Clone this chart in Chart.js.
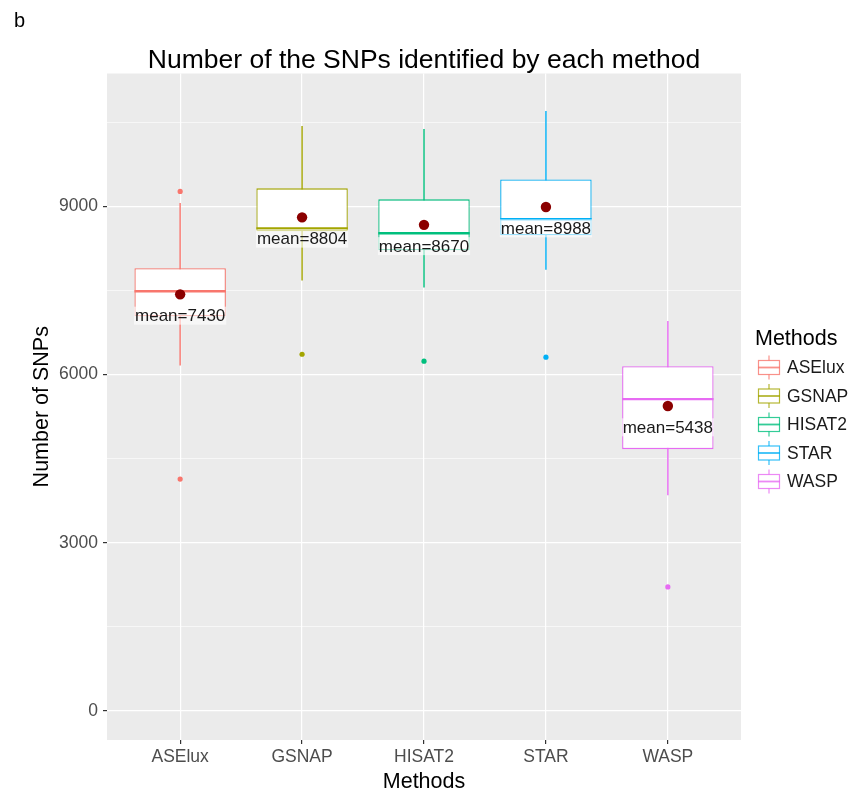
<!DOCTYPE html>
<html>
<head>
<meta charset="utf-8">
<script src="https://cdn.jsdelivr.net/npm/chart.js@4.4.1/dist/chart.umd.min.js"></script>
<style>
  html, body { margin: 0; padding: 0; background: #ffffff; }
  canvas { display: block; }
</style>
</head>
<body>
<canvas id="snpChart" width="854" height="796"></canvas>
<script>
// Box-plot summary of SNP counts per alignment method
const methods      = ['ASElux', 'GSNAP', 'HISAT2', 'STAR', 'WASP'];
const methodColors = ['#F8766D', '#A3A500', '#00BF7D', '#00B0F6', '#E76BF3'];
const whiskerLow   = [6166, 7681, 7557, 7877, 3850];
const quartile1    = [7040, 8555, 8216, 8483, 4669];
const medians      = [7485, 8608, 8519, 8769, 5561];
const quartile3    = [7895, 9321, 9125, 9481, 6149];
const whiskerHigh  = [9054, 10426, 10372, 10693, 6951];
const means        = [7430, 8804, 8670, 8988, 5438];
const outliers     = [[9267, 4135], [6362], [6238], [6309], [2210]];
const yTicks       = [0, 3000, 6000, 9000];
const yMinorTicks  = [1500, 4500, 7500, 10500];

const FONT = '"Liberation Sans", Arial, Helvetica, sans-serif';
const MEAN_LABEL_DROP = 380;   // label sits this many SNPs below the mean dot

Chart.defaults.font.family = FONT;

const idx = methods.map((_, i) => i);
const outlierPoints = [];
outliers.forEach((vals, i) => vals.forEach(v => outlierPoints.push({ x: i, y: v })));

function halfBoxWidth(c) {
  const s = c.chart.scales.x;
  return Math.abs(s.getPixelForValue(1) - s.getPixelForValue(0)) * 0.75 / 2;
}

function withAlpha(hex, a) {
  const n = parseInt(hex.slice(1), 16);
  return `rgba(${(n >> 16) & 255},${(n >> 8) & 255},${n & 255},${a})`;
}

// grey panel behind the grid
const panelBackground = {
  id: 'panelBackground',
  beforeDraw(chart) {
    const { ctx, chartArea: a } = chart;
    ctx.save();
    ctx.fillStyle = '#ffffff';
    ctx.fillRect(0, 0, chart.width, chart.height);
    ctx.fillStyle = '#EBEBEB';
    ctx.fillRect(a.left, a.top, a.right - a.left, a.bottom - a.top);
    ctx.restore();
  }
};

// "mean=..." captions under each mean dot
const meanLabels = {
  id: 'meanLabels',
  afterDatasetsDraw(chart) {
    const { ctx, scales: { x, y } } = chart;
    ctx.save();
    ctx.font = '17px ' + FONT;
    ctx.textAlign = 'center';
    ctx.textBaseline = 'middle';
    means.forEach((m, i) => {
      const px = x.getPixelForValue(i);
      const py = y.getPixelForValue(m - MEAN_LABEL_DROP);
      const text = 'mean=' + m;
      const w = ctx.measureText(text).width;
      ctx.fillStyle = 'rgba(255,255,255,0.6)';
      ctx.fillRect(px - w / 2 - 1, py - 9, w + 2, 18);
      ctx.fillStyle = '#1a1a1a';
      ctx.fillText(text, px, py + 1);
    });
    ctx.restore();
  }
};

// panel tag and the "Methods" key with box-plot glyphs
const sideDecor = {
  id: 'sideDecor',
  afterDraw(chart) {
    const { ctx } = chart;
    ctx.save();
    ctx.fillStyle = '#000000';
    ctx.textAlign = 'left';
    ctx.textBaseline = 'middle';
    ctx.font = '20px ' + FONT;
    ctx.fillText('b', 14, 21);

    ctx.font = '21.5px ' + FONT;
    ctx.fillText('Methods', 755, 339);

    methods.forEach((m, i) => {
      const cy = 367.5 + i * 28.5;
      const x0 = 758, w = 22, cx = x0 + w / 2;
      const col = withAlpha(methodColors[i], 0.8);
      ctx.strokeStyle = col;
      ctx.lineWidth = 1.2;
      ctx.beginPath();
      ctx.moveTo(cx, cy - 12); ctx.lineTo(cx, cy + 12);
      ctx.stroke();
      ctx.fillStyle = '#ffffff';
      ctx.fillRect(x0, cy - 7, w, 14);
      ctx.strokeRect(x0 + 0.5, cy - 7, w - 1, 14);
      ctx.lineWidth = 1.8;
      ctx.beginPath();
      ctx.moveTo(x0, cy); ctx.lineTo(x0 + w, cy);
      ctx.stroke();
      ctx.fillStyle = '#1a1a1a';
      ctx.font = '17.5px ' + FONT;
      ctx.fillText(m, 787, cy + 1);
    });
    ctx.restore();
  }
};

new Chart(document.getElementById('snpChart'), {
  type: 'bar',
  data: {
    datasets: [
      {
        type: 'bar',
        label: 'whiskers',
        data: idx.map(i => ({ x: i, y: [whiskerLow[i], whiskerHigh[i]] })),
        backgroundColor: methodColors.map(c => withAlpha(c, 0.85)),
        borderWidth: 0,
        barThickness: 1,
        grouped: false,
        order: 5
      },
      {
        type: 'bar',
        label: 'boxes',
        data: idx.map(i => ({ x: i, y: [quartile1[i], quartile3[i]] })),
        backgroundColor: '#ffffff',
        borderColor: methodColors,
        borderWidth: 1.3,
        borderSkipped: false,
        barPercentage: 0.75,
        categoryPercentage: 1,
        grouped: false,
        order: 4
      },
      {
        type: 'scatter',
        label: 'medians',
        data: idx.map(i => ({ x: i, y: medians[i] })),
        pointStyle: 'line',
        radius: halfBoxWidth,
        borderColor: methodColors,
        borderWidth: 2.4,
        order: 3
      },
      {
        type: 'scatter',
        label: 'outliers',
        data: outlierPoints,
        backgroundColor: c => methodColors[c.raw.x],
        borderWidth: 0,
        radius: 2.6,
        order: 2
      },
      {
        type: 'scatter',
        label: 'means',
        data: idx.map(i => ({ x: i, y: means[i] })),
        backgroundColor: '#8B0000',
        borderWidth: 0,
        radius: 5.2,
        order: 1
      }
    ]
  },
  options: {
    responsive: false,
    animation: false,
    events: [],
    layout: { padding: { top: 0, right: 113, bottom: 0, left: 0 } },
    plugins: {
      legend: { display: false },
      tooltip: { enabled: false },
      title: {
        display: true,
        text: 'Number of the SNPs identified by each method',
        color: '#000000',
        font: { size: 26.5, weight: 'normal', lineHeight: 1 },
        padding: { top: 47, bottom: 0 },
        fullSize: false
      }
    },
    scales: {
      x: {
        type: 'linear',
        min: -0.6,
        max: 4.6,
        offset: false,
        afterBuildTicks: s => { s.ticks = idx.map(i => ({ value: i })); },
        afterFit: s => { s.height = 56; },
        ticks: {
          callback: v => methods[v],
          color: '#4D4D4D',
          font: { size: 17.5 },
          padding: 3,
          autoSkip: false,
          maxRotation: 0
        },
        grid: { color: '#ffffff', lineWidth: 1.2, tickColor: '#333333', tickLength: 4, offset: false },
        border: { display: false },
        title: {
          display: true, text: 'Methods', color: '#000000',
          font: { size: 21.5 }, padding: { top: 0, bottom: 1 }
        }
      },
      y: {
        type: 'linear',
        min: -520,
        max: 11370,
        afterBuildTicks: s => {
          s.ticks = [...yTicks, ...yMinorTicks].sort((a, b) => a - b).map(v => ({ value: v }));
        },
        afterFit: s => { s.width = 107; },
        ticks: {
          callback: v => (yTicks.includes(v) ? String(v) : ''),
          color: '#4D4D4D',
          font: { size: 17.5 },
          padding: 5,
          autoSkip: false
        },
        grid: {
          color: '#ffffff',
          lineWidth: c => (yTicks.includes(c.tick.value) ? 1.2 : 0.6),
          tickColor: c => (yTicks.includes(c.tick.value) ? '#333333' : 'rgba(0,0,0,0)'),
          tickLength: 4
        },
        border: { display: false },
        title: {
          display: true, text: 'Number of SNPs', color: '#000000',
          font: { size: 21.5 }, padding: { top: 29, bottom: 0 }
        }
      }
    }
  },
  plugins: [panelBackground, meanLabels, sideDecor]
});
</script>
</body>
</html>
